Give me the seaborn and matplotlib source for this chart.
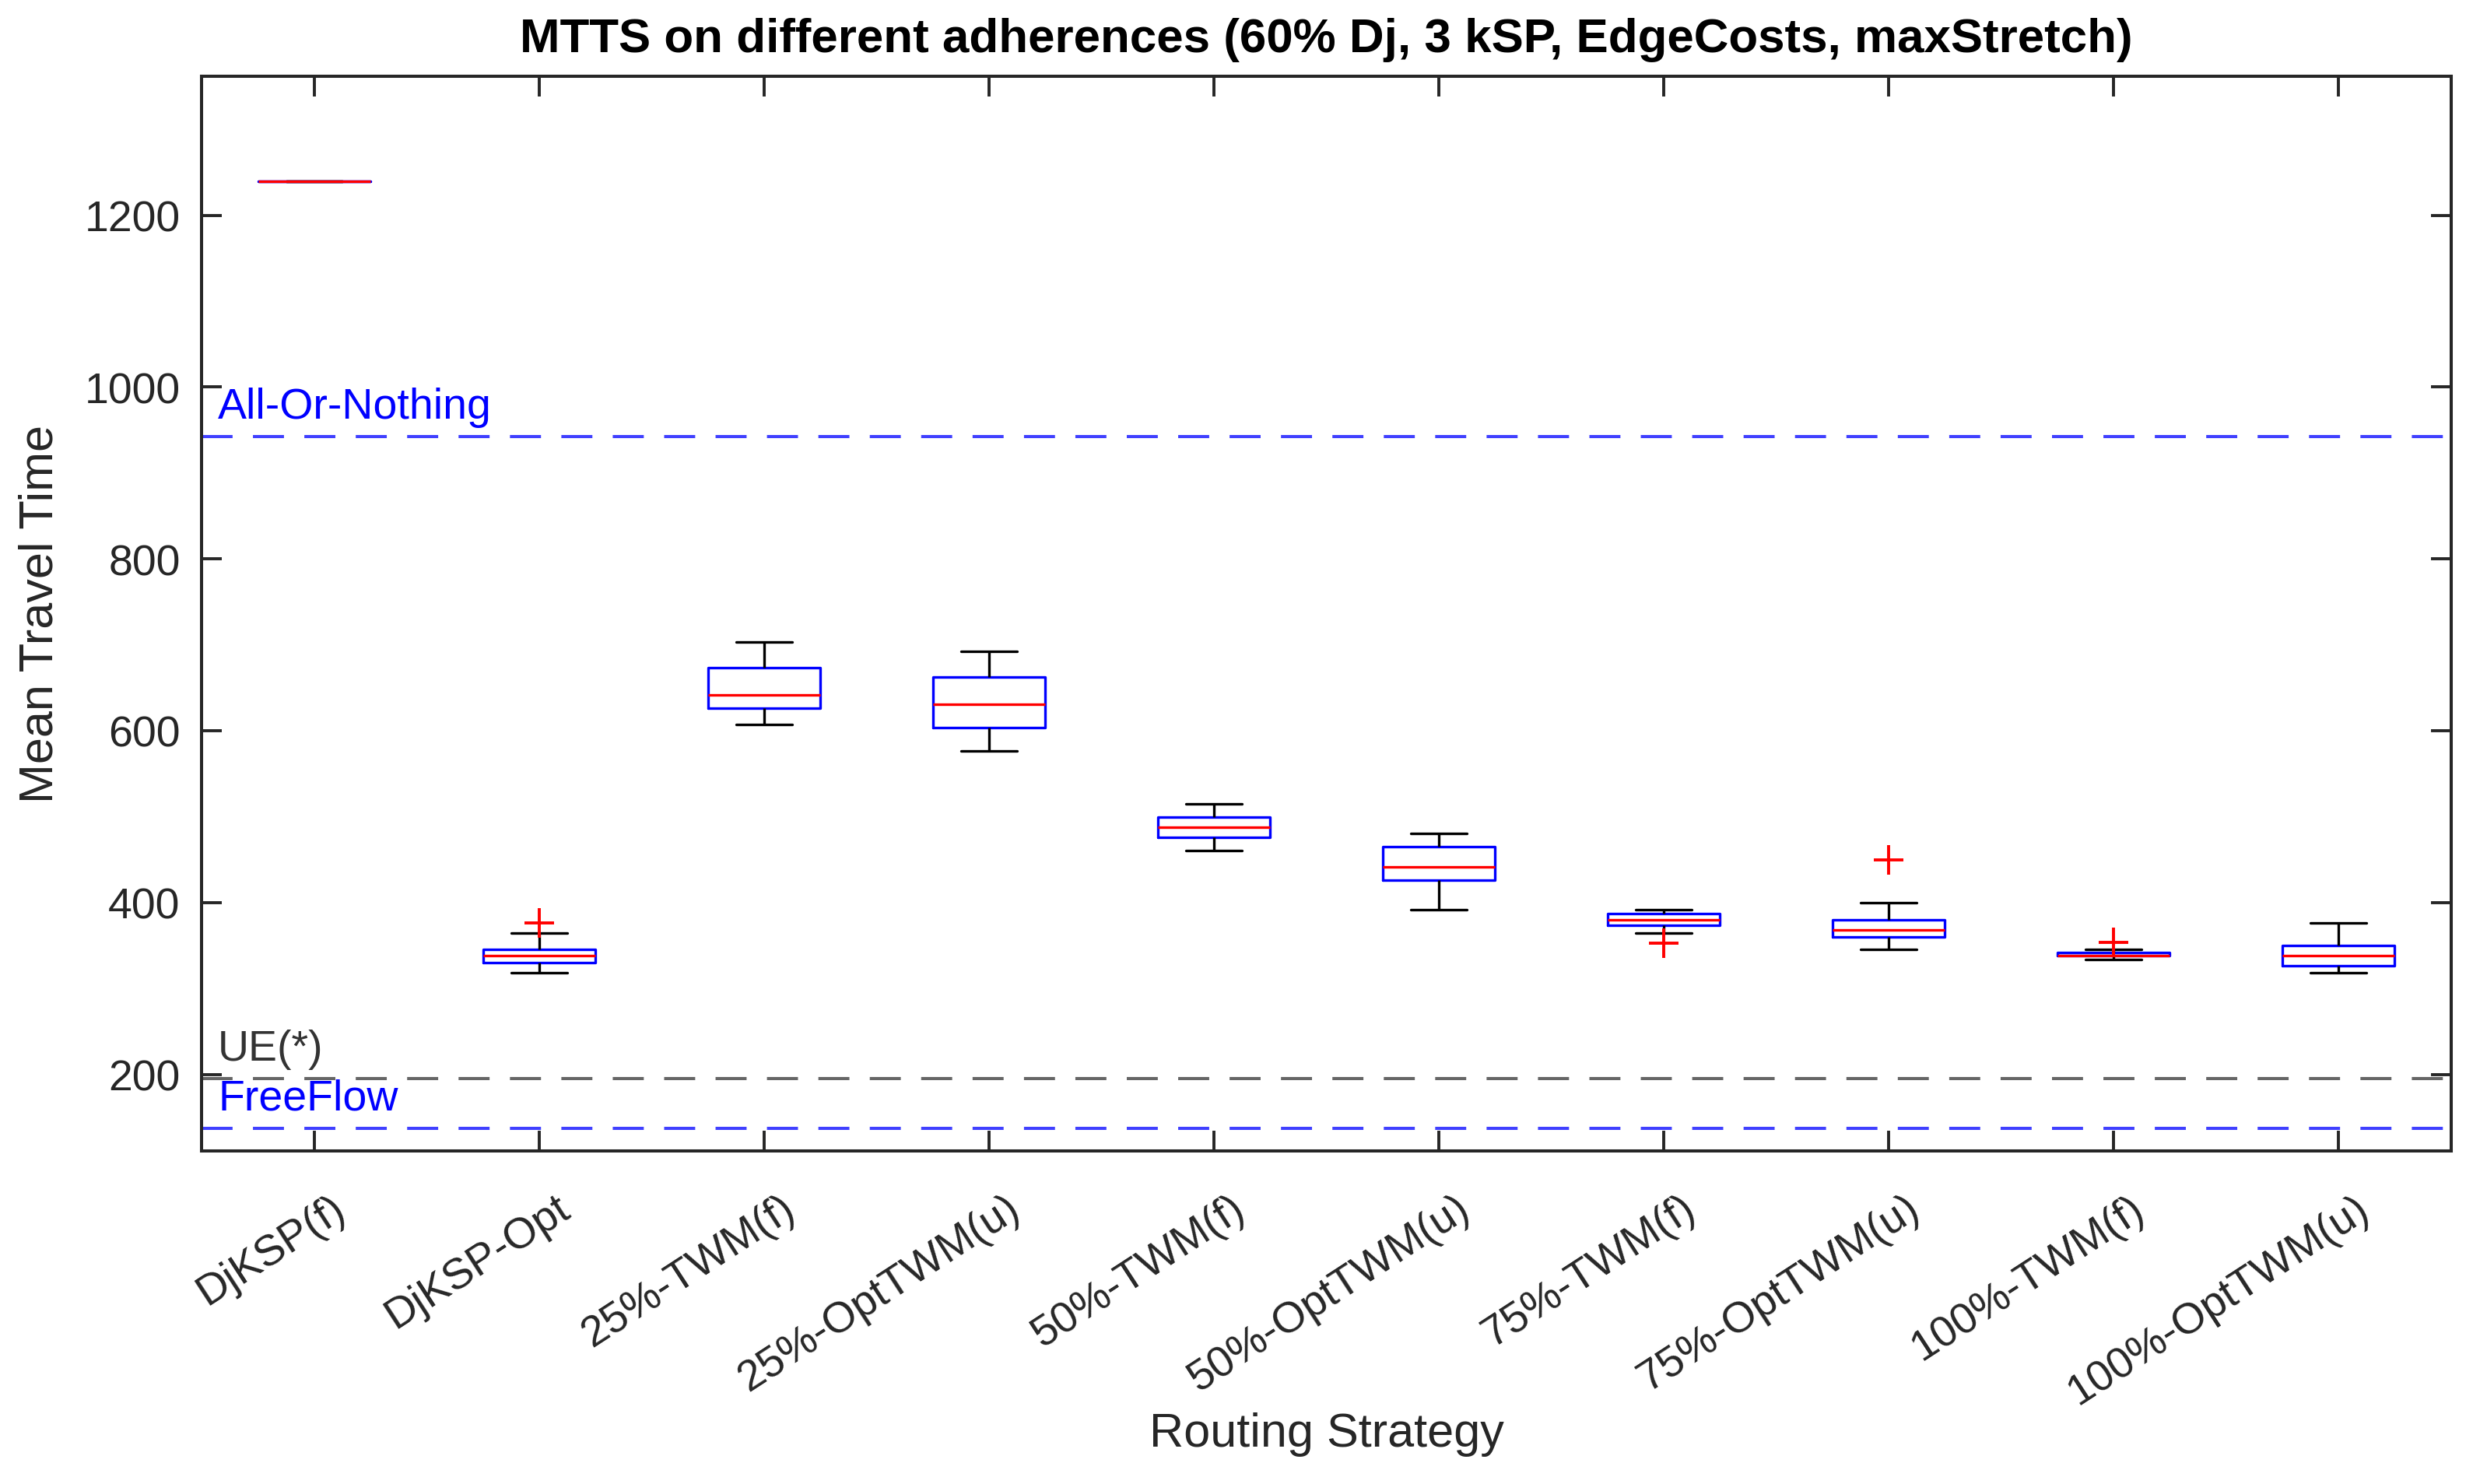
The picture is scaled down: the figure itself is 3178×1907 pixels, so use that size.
import matplotlib
matplotlib.use("Agg")
import pandas as pd
import matplotlib.pyplot as plt
import matplotlib.transforms as mtransforms
import seaborn as sns

# routing strategies on the x axis
strategies = ["DjKSP(f)", "DjKSP-Opt", "25%-TWM(f)", "25%-OptTWM(u)", "50%-TWM(f)",
              "50%-OptTWM(u)", "75%-TWM(f)", "75%-OptTWM(u)", "100%-TWM(f)", "100%-OptTWM(u)"]

djksp_f = [1239, 1239, 1239, 1239, 1239, 1239, 1239, 1239, 1239]
djksp_opt = [318.7, 325, 330.2, 334, 337.8, 341, 345.3, 364.6, 376.4]
twm25_f = [607, 615, 626, 635, 642, 660, 673, 690, 703]
opttwm25_u = [576, 590, 604, 618, 630.5, 648, 662, 678, 692]
twm50_f = [460.6, 468, 476, 482, 487.7, 494, 499.5, 508, 514.8]
opttwm50_u = [391.5, 410, 426, 434, 441.6, 454, 465, 472, 480]
twm75_f = [352.5, 364.5, 373.5, 377, 380, 384, 387, 389, 391.5]
opttwm75_u = [345.4, 352, 360, 364, 368.1, 374, 380.2, 399.6, 449.3]
twm100_f = [334, 336, 338, 338, 338.2, 340, 341.5, 345.3, 353.2]
opttwm100_u = [318.4, 322, 326, 332, 337.8, 344, 350, 364, 376]

runs = [djksp_f, djksp_opt, twm25_f, opttwm25_u, twm50_f,
        opttwm50_u, twm75_f, opttwm75_u, twm100_f, opttwm100_u]

# reference levels drawn as dashed lines
ref_names = ["All-Or-Nothing", "UE(*)", "FreeFlow"]
ref_values = [942.5, 195, 137.5]
ref_line_colors = ["#4040ff", "#666666", "#4040ff"]
ref_text_colors = ["#0000ff", "#333333", "#0000ff"]

df = pd.DataFrame(
    [(s, v) for s, vals in zip(strategies, runs) for v in vals],
    columns=["strategy", "time"],
)

sns.set_style("ticks")
plt.rcParams["font.family"] = ["Liberation Sans", "DejaVu Sans"]

fig, ax = plt.subplots(figsize=(15.89, 9.54), dpi=200)
fig.subplots_adjust(left=0.0816, right=0.9911, bottom=0.2244, top=0.9483)

lw = 1.2
sns.boxplot(
    data=df, x="strategy", y="time", order=strategies, ax=ax,
    width=0.5, fill=False, color="blue", linewidth=lw, whis=1.5,
    boxprops=dict(color="blue", linewidth=lw),
    whiskerprops=dict(color="black", linewidth=lw),
    capprops=dict(color="black", linewidth=lw),
    medianprops=dict(color="red", linewidth=lw),
    flierprops=dict(marker="+", markeredgecolor="red", markersize=13.7,
                    markeredgewidth=1.4),
)

for name, val, lc, tc in zip(ref_names, ref_values, ref_line_colors, ref_text_colors):
    ax.axhline(val, color=lc, lw=1.45, dashes=(9.9, 6.5), zorder=1)
    ax.annotate(name, xy=(0, val), xycoords=("axes fraction", "data"),
                xytext=(7.5, 8.6), textcoords="offset points",
                color=tc, fontsize=20, va="baseline", ha="left")

ax.set_xlim(-0.5, 9.5)
ax.set_ylim(111, 1362)
ax.set_yticks([200, 400, 600, 800, 1000, 1200])
ax.set_xticks(range(len(strategies)))
ax.set_xticklabels(strategies, rotation=33, ha="right", va="top",
                   rotation_mode="anchor")

ax.tick_params(axis="both", direction="in", length=9.4, width=1.4,
               top=True, right=True, colors="#262626", labelsize=20)
ax.tick_params(axis="y", pad=10)
ax.tick_params(axis="x", pad=17)

shift = mtransforms.ScaledTranslation(0.105, 0, fig.dpi_scale_trans)
for lab in ax.get_xticklabels():
    lab.set_transform(lab.get_transform() + shift)

for sp in ax.spines.values():
    sp.set_color("#262626")
    sp.set_linewidth(1.45)

ax.set_title("MTTS on different adherences (60% Dj, 3 kSP, EdgeCosts, maxStretch)",
             fontsize=22.3, fontweight="bold", pad=11.5, color="black")
ax.set_xlabel("Routing Strategy", fontsize=22, color="#262626")
ax.set_ylabel("Mean Travel Time", fontsize=22, color="#262626")
ax.xaxis.set_label_coords(0.5, -0.263)
ax.xaxis.label.set_va("center")
ax.yaxis.set_label_coords(-0.0718, 0.5)
ax.yaxis.label.set_va("center")

fig.savefig("out.png", dpi=200)
